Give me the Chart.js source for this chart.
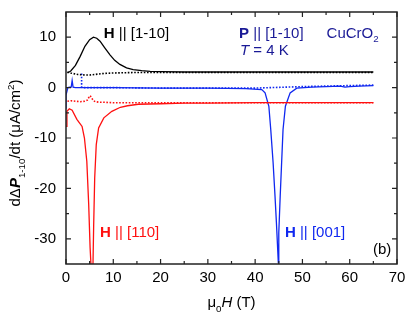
<!DOCTYPE html>
<html>
<head>
<meta charset="utf-8">
<script src="https://cdn.jsdelivr.net/npm/chart.js@4/dist/chart.umd.min.js"></script>
<style>
  body { margin: 0; background: #fff; }
  canvas { display: block; }
</style>
</head>
<body>
<canvas id="myChart" width="415" height="318"></canvas>
<script>
// axis ticks
const xTicks = [0, 10, 20, 30, 40, 50, 60, 70];
const yTicks = [-30, -20, -10, 0, 10];
const xMinor = [5, 15, 25, 35, 45, 55, 65];
const yMinor = [-25, -15, -5, 5];

// H || [1-10]
const blackSolidX = [0.3, 1, 2, 3, 4, 5, 5.8, 6.5, 7.2, 8.2, 9.3, 10.3, 11.4, 12.8, 14.2, 16, 17.8, 20, 25, 30, 40, 50, 60, 65];
const blackSolidY = [2.9, 3.3, 4.4, 6.2, 8.2, 9.5, 10.0, 9.8, 9.2, 7.9, 6.5, 5.4, 4.6, 3.9, 3.56, 3.35, 3.2, 3.15, 3.1, 3.1, 3.1, 3.1, 3.1, 3.1];
const blackDotX = [0.3, 1, 2.5, 4, 5, 6, 8, 10, 15, 20, 30, 40, 50, 60, 65];
const blackDotY = [3.1, 2.9, 2.6, 2.5, 2.5, 2.6, 2.8, 2.9, 3.0, 3.0, 3.0, 3.0, 3.0, 3.0, 3.0];

// H || [001]
const blueSolidX = [0, 0, 0.4, 0.8, 1.1, 1.3, 1.5, 2, 5, 10, 20, 30, 38, 41.4, 42.1, 42.9, 43.3, 43.8, 44.2, 44.5, 44.9, 45.0, 45.3, 45.6, 45.9, 46.4, 47.4, 48.8, 52, 55, 58, 59, 60, 62, 65];
const blueSolidY = [-4.2, -1.5, 0, 0.1, 0.1, 1.4, 0.1, 0, 0, 0, -0.1, -0.1, -0.2, -0.4, -1.05, -3.7, -8.3, -14.9, -21.5, -26.8, -34.7, -28.8, -21.5, -14.9, -8.3, -3.7, -1.05, -0.1, 0.1, 0.2, 0.3, 0.1, 0.2, 0.3, 0.4];
const blueDotX = [3.3, 3.3, 3.5, 5, 10, 20, 30, 40, 45, 50, 55, 60, 65];
const blueDotY = [2.8, 0.1, 0, 0, 0, -0.1, -0.1, -0.1, 0.05, 0.2, 0.3, 0.4, 0.5];

// H || [110]
const redSolidX = [0, 0.2, 0.7, 1.3, 2.3, 3.4, 3.9, 4.4, 4.8, 5.1, 5.3, 5.5, 5.7, 5.85, 6.07, 6.4, 6.9, 8.0, 9.7, 11.5, 13, 15.3, 20, 25, 30, 40, 50, 60, 65];
const redSolidY = [-7.7, -4.7, -4.2, -4.5, -6.3, -7.7, -10, -14.6, -23.2, -31.8, -35.5, -37, -35.5, -27.4, -17.9, -11.3, -8.0, -6.0, -4.7, -3.9, -3.6, -3.3, -3.2, -3.1, -3.1, -3.0, -3.0, -3.0, -3.0];
const redDotX = [0.3, 1, 2, 3, 4, 4.5, 4.8, 5.1, 5.4, 5.8, 6.2, 7, 8, 10, 15, 20, 30, 40, 50, 60, 65];
const redDotY = [-2.7, -2.6, -2.7, -2.8, -2.7, -2.5, -2.0, -1.6, -2.0, -2.6, -2.8, -2.9, -2.9, -3.0, -3.0, -3.0, -3.0, -3.0, -3.0, -3.0, -3.0];

const FONT = '"Liberation Sans", Arial, sans-serif';
const BLACK = '#000000', RED = '#ff1010', BLUE = '#1028f0', NAVY = '#1a1a96';

// text labels, placed in data coordinates
const notes = [
  { x: 8.0, y: 9.84, color: BLACK, parts: [{ t: 'H', b: true }, { t: ' || [1-10]' }] },
  { x: 36.6, y: 9.9, color: NAVY, parts: [{ t: 'P', b: true }, { t: ' || [1-10]' }] },
  { x: 36.8, y: 6.4, color: NAVY, parts: [{ t: 'T', i: true }, { t: ' = 4 K' }] },
  { x: 55.1, y: 9.9, color: NAVY, parts: [{ t: 'CuCrO' }, { t: '2', sub: true }] },
  { x: 7.2, y: -29.7, color: RED, parts: [{ t: 'H', b: true }, { t: ' || [110]' }] },
  { x: 46.3, y: -29.7, color: BLUE, parts: [{ t: 'H', b: true }, { t: ' || [001]' }] },
  { x: 64.9, y: -33.0, color: BLACK, parts: [{ t: '(b)' }] }
];

const toPts = (xs, ys) => xs.map((x, i) => ({ x: x, y: ys[i] }));

function richWidth(ctx, parts, size) {
  let w = 0;
  parts.forEach(p => {
    const s = (p.sub || p.sup) ? size * 0.65 : size;
    ctx.font = (p.i ? 'italic ' : '') + (p.b ? 'bold ' : '') + s + 'px ' + FONT;
    w += ctx.measureText(p.t).width;
  });
  return w;
}

function drawRich(ctx, parts, x, y, size) {
  let cx = x;
  parts.forEach(p => {
    const s = (p.sub || p.sup) ? size * 0.65 : size;
    ctx.font = (p.i ? 'italic ' : '') + (p.b ? 'bold ' : '') + s + 'px ' + FONT;
    const dy = p.sub ? size * 0.3 : (p.sup ? -size * 0.42 : 0);
    ctx.fillText(p.t, cx, y + dy);
    cx += ctx.measureText(p.t).width;
  });
}

const framePlugin = {
  id: 'frame',
  afterDraw(chart) {
    const ctx = chart.ctx;
    const a = chart.chartArea;
    const xs = chart.scales.x, ys = chart.scales.y;
    ctx.save();
    ctx.strokeStyle = '#222';
    ctx.lineWidth = 1.5;
    ctx.strokeRect(a.left, a.top, a.right - a.left, a.bottom - a.top);

    const tick = (vals, len) => {
      vals.forEach(v => {
        const px = xs.getPixelForValue(v);
        ctx.beginPath();
        ctx.moveTo(px, a.bottom); ctx.lineTo(px, a.bottom - len);
        ctx.moveTo(px, a.top); ctx.lineTo(px, a.top + len);
        ctx.stroke();
      });
    };
    const tickY = (vals, len) => {
      vals.forEach(v => {
        const py = ys.getPixelForValue(v);
        ctx.beginPath();
        ctx.moveTo(a.left, py); ctx.lineTo(a.left + len, py);
        ctx.moveTo(a.right, py); ctx.lineTo(a.right - len, py);
        ctx.stroke();
      });
    };
    ctx.lineWidth = 1.2;
    tick(xTicks, 5); tick(xMinor, 3);
    tickY(yTicks, 5); tickY(yMinor, 3);

    ctx.textBaseline = 'alphabetic';
    ctx.textAlign = 'left';
    notes.forEach(n => {
      ctx.fillStyle = n.color;
      drawRich(ctx, n.parts, xs.getPixelForValue(n.x), ys.getPixelForValue(n.y), 15);
    });

    // axis titles
    ctx.fillStyle = '#000';
    const xt = [{ t: '\u03bc' }, { t: '0', sub: true }, { t: 'H', i: true }, { t: ' (T)' }];
    const xw = richWidth(ctx, xt, 15);
    drawRich(ctx, xt, (a.left + a.right) / 2 - xw / 2, 307, 15);

    const yt = [{ t: 'd\u0394' }, { t: 'P', b: true, i: true }, { t: '1-10', sub: true }, { t: '/dt (\u03bcA/cm' }, { t: '2', sup: true }, { t: ')' }];
    const yw = richWidth(ctx, yt, 15);
    ctx.translate(20, 143);
    ctx.rotate(-Math.PI / 2);
    drawRich(ctx, yt, -yw / 2, 0, 15);
    ctx.restore();
  }
};

const line = (xs, ys, color, dotted) => ({
  data: toPts(xs, ys),
  borderColor: color,
  borderWidth: dotted ? 1.6 : 1.3,
  borderDash: dotted ? [1.6, 1.6] : [],
  pointRadius: 0,
  showLine: true,
  tension: 0
});

new Chart(document.getElementById('myChart'), {
  type: 'scatter',
  data: {
    datasets: [
      line(blackDotX, blackDotY, BLACK, true),
      line(blackSolidX, blackSolidY, BLACK, false),
      line(redDotX, redDotY, RED, true),
      line(redSolidX, redSolidY, RED, false),
      line(blueDotX, blueDotY, BLUE, true),
      line(blueSolidX, blueSolidY, BLUE, false)
    ]
  },
  options: {
    responsive: false,
    animation: false,
    layout: { padding: { top: 12, right: 18, left: 0, bottom: 0 } },
    plugins: { legend: { display: false }, tooltip: { enabled: false } },
    scales: {
      x: {
        type: 'linear', min: 0, max: 70,
        afterBuildTicks: s => { s.ticks = xTicks.map(v => ({ value: v })); },
        afterFit: s => { s.height = 54; s.paddingLeft = 0; s.paddingRight = 0; },
        grid: { display: false, drawTicks: false },
        border: { display: false },
        ticks: { color: '#000', font: { size: 15, family: FONT }, padding: 5, maxRotation: 0 }
      },
      y: {
        type: 'linear', min: -35, max: 15,
        afterBuildTicks: s => { s.ticks = yTicks.map(v => ({ value: v })); },
        afterFit: s => { s.width = 66; s.paddingTop = 0; s.paddingBottom = 0; },
        grid: { display: false, drawTicks: false },
        border: { display: false },
        ticks: { color: '#000', font: { size: 15, family: FONT }, padding: 10 }
      }
    }
  },
  plugins: [framePlugin]
});
</script>
</body>
</html>
